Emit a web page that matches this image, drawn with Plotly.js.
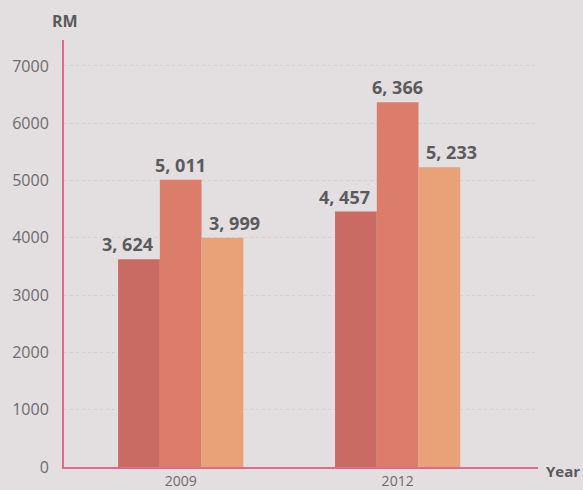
<!DOCTYPE html>
<html>
<head>
<meta charset="utf-8">
<script src="https://cdn.plot.ly/plotly-3.0.1.min.js"></script>
<style>
  html, body { margin: 0; padding: 0; background: #e3dee0; }
  #chart { width: 583px; height: 490px; }
</style>
</head>
<body>
<div id="chart"></div>
<script>
// Data
const years = ["2009", "2012"];
const seriesA = [3624, 4457];
const seriesB = [5011, 6366];
const seriesC = [3999, 5233];
const yTicks = [0, 1000, 2000, 3000, 4000, 5000, 6000, 7000];

const colors = ["#c96b62", "#dc7c6b", "#e9a178"];
const series = [seriesA, seriesB, seriesC];
const bargap = 0.423;
const labelShift = [-11, 0, 12];

function fmt(v) {
  return String(v).replace(/\B(?=(\d{3})+(?!\d))/g, ", ");
}

const traces = series.map((vals, i) => ({
  type: "bar",
  x: years,
  y: vals,
  marker: { color: colors[i], line: { width: 0 } },
  hoverinfo: "skip",
  showlegend: false
}));

const w = (1 - bargap) / series.length;
const annotations = [];
series.forEach((vals, s) => {
  vals.forEach((v, c) => {
    annotations.push({
      x: c + (s - 1) * w,
      y: v,
      xref: "x",
      yref: "y",
      text: fmt(v),
      showarrow: false,
      yanchor: "bottom",
      xanchor: "center",
      xshift: labelShift[s],
      yshift: 1,
      font: { family: "Open Sans, sans-serif", size: 18, color: "#5b5a5c", weight: 700 }
    });
  });
});

annotations.push({
  xref: "paper", yref: "paper", x: 0, y: 1,
  xanchor: "center", yanchor: "bottom", yshift: 6, xshift: 1,
  text: "<b>RM</b>", showarrow: false,
  font: { family: "Open Sans, sans-serif", size: 16, color: "#5a595b" }
});
annotations.push({
  xref: "paper", yref: "paper", x: 1, y: 0,
  xanchor: "left", yanchor: "middle", xshift: 6, yshift: -4,
  text: "<b>Year</b>", showarrow: false,
  font: { family: "Open Sans, sans-serif", size: 15, color: "#5a595b" }
});

const layout = {
  width: 583,
  height: 490,
  margin: { l: 64, r: 45, t: 40, b: 23 },
  paper_bgcolor: "#e3dee0",
  plot_bgcolor: "#e3dee0",
  barmode: "group",
  bargap: bargap,
  bargroupgap: 0,
  xaxis: {
    type: "category",
    range: [-0.538, 1.647],
    showline: true,
    linecolor: "#df6a8c",
    linewidth: 2,
    showgrid: false,
    zeroline: false,
    ticks: "",
    ticklabelstandoff: 0,
    tickfont: { family: "Open Sans, sans-serif", size: 14, color: "#6c6b6d" },
    fixedrange: true
  },
  yaxis: {
    range: [0, 7452],
    tickvals: yTicks,
    ticktext: yTicks.map(String),
    showline: true,
    linecolor: "#df6a8c",
    linewidth: 2,
    showgrid: true,
    gridcolor: "#d5cfd1",
    gridwidth: 1,
    griddash: "dot",
    zeroline: false,
    ticks: "",
    ticklabelstandoff: 10,
    tickfont: { family: "Open Sans, sans-serif", size: 16, color: "#6c6b6d" },
    fixedrange: true
  },
  annotations: annotations
};

Plotly.newPlot("chart", traces, layout, { displayModeBar: false, staticPlot: true });
</script>
</body>
</html>
